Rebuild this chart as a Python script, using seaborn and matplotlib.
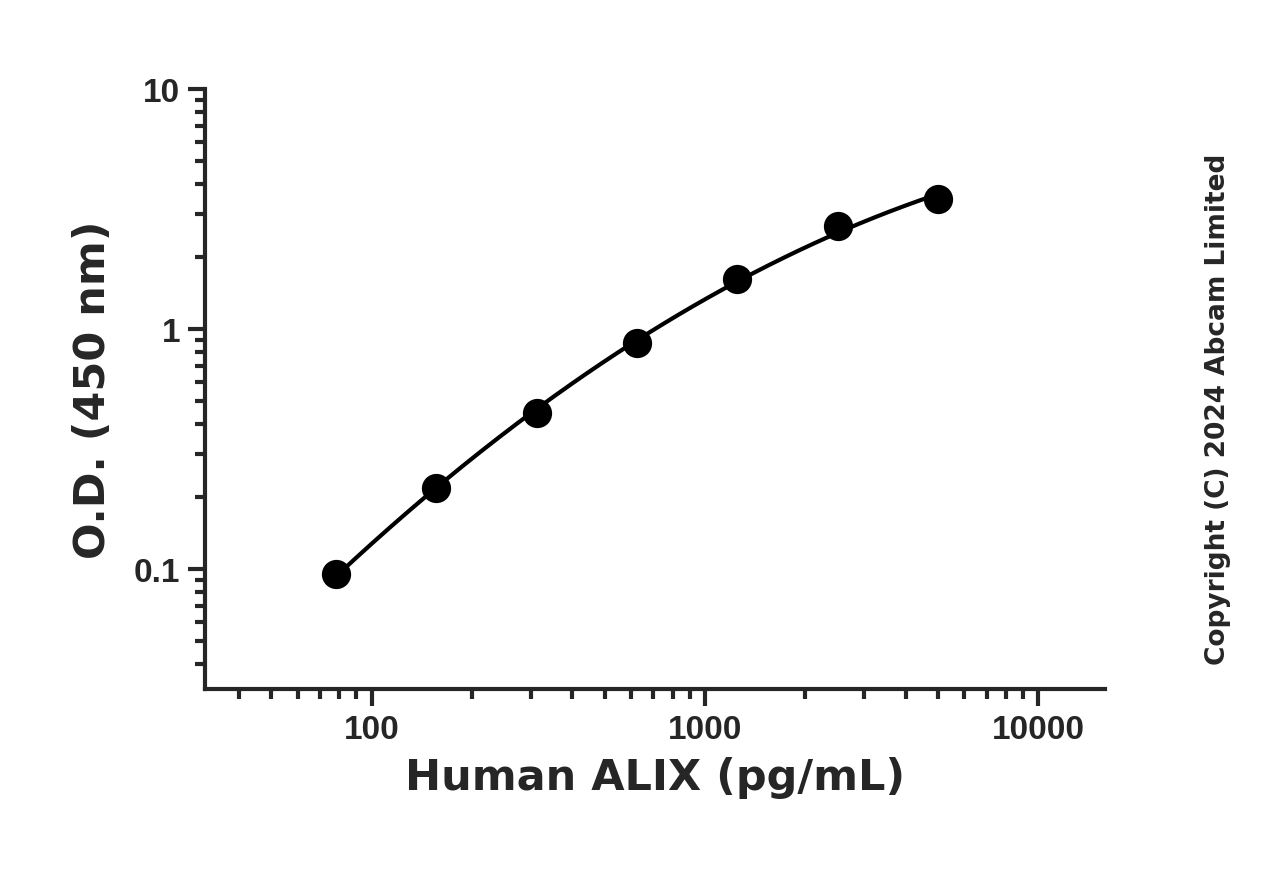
import numpy as np
import pandas as pd
import matplotlib
matplotlib.use("Agg")
import matplotlib.pyplot as plt
import seaborn as sns
from matplotlib.ticker import LogLocator, FixedLocator, NullFormatter

conc = [78.125, 156.25, 312.5, 625, 1250, 2500, 5000]
od = [0.095, 0.217, 0.446, 0.877, 1.62, 2.68, 3.48]
xticks = [100, 1000, 10000]
xticklabels = ['100', '1000', '10000']
yticks = [0.1, 1, 10]
yticklabels = ['0.1', '1', '10']

sns.set_style("ticks")
matplotlib.rc("font", family=['Liberation Sans Narrow', 'Liberation Sans', 'DejaVu Sans'])

df = pd.DataFrame({'conc': conc, 'od': od})

# smooth curve: quadratic fit in log-log space
lx, ly = np.log10(conc), np.log10(od)
coef = np.polyfit(lx, ly, 2)
xs = np.linspace(lx[0], lx[-1], 200)
curve = pd.DataFrame({'conc': 10 ** xs, 'od': 10 ** np.polyval(coef, xs)})

fig = plt.figure(figsize=(12.81, 8.7), dpi=100)
ax = fig.add_axes([0.16, 0.207, 0.7026, 0.6896])

sns.lineplot(data=curve, x='conc', y='od', ax=ax, color='black', linewidth=3)
sns.scatterplot(data=df, x='conc', y='od', ax=ax, color='black', s=380, edgecolor='black', zorder=3)

ax.set_xscale('log')
ax.set_yscale('log')
ax.set_xlim(31.6, 15850)
ax.set_ylim(0.0316, 10)

ax.xaxis.set_major_locator(FixedLocator(xticks))
ax.set_xticklabels(xticklabels)
ax.yaxis.set_major_locator(FixedLocator(yticks))
ax.set_yticklabels(yticklabels)
ax.xaxis.set_minor_locator(LogLocator(base=10, subs=np.arange(2, 10)))
ax.yaxis.set_minor_locator(LogLocator(base=10, subs=np.arange(2, 10)))
ax.xaxis.set_minor_formatter(NullFormatter())
ax.yaxis.set_minor_formatter(NullFormatter())

for s in ['top', 'right']:
    ax.spines[s].set_visible(False)
for s in ['left', 'bottom']:
    ax.spines[s].set_linewidth(3)
ax.tick_params(which='major', length=12, width=3, direction='out', labelsize=24, pad=6)
ax.tick_params(which='minor', length=7, width=3, direction='out')
for lab in ax.get_xticklabels() + ax.get_yticklabels():
    lab.set_fontweight('bold')

ax.set_xlabel('Human ALIX (pg/mL)', fontsize=31, fontweight='bold', family='DejaVu Sans', labelpad=8)
ax.set_ylabel('O.D. (450 nm)', fontsize=31, fontweight='bold', family='DejaVu Sans', labelpad=14)

fig.text(0.951, 0.53, 'Copyright (C) 2024 Abcam Limited', rotation=90, ha='center', va='center',
         fontsize=19, fontweight='bold', family='DejaVu Sans')

plt.savefig('out.png', dpi=100)
